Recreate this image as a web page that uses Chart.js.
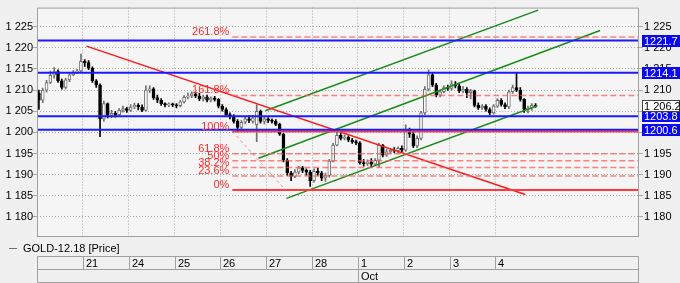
<!DOCTYPE html>
<html>
<head>
<meta charset="utf-8">
<script src="https://cdn.jsdelivr.net/npm/chart.js@4.4.0/dist/chart.umd.min.js"></script>
<style>
  html, body { margin: 0; padding: 0; background: #f0f0f0; }
  #wrap { width: 680px; height: 283px; }
</style>
</head>
<body>
<div id="wrap"><canvas id="mycanvas" width="680" height="283"></canvas></div>
<script>
// GOLD-12.18, 2h bars, 12 per trading day
var BARS_PER_DAY = 12;
var dayLabels = ['', '21', '24', '25', '26', '27', '28', '1', '2', '3', '4'];
var monthStarts = [7];
var monthLabels = ['Oct'];
var yTicks = [1180, 1185, 1190, 1195, 1200, 1205, 1210, 1215, 1220, 1225];

var opens = [
  1209.3,1207.6,1210,1211.8,1213.5,1214.4,1212.2,1210.6,1212.4,1213.6,1214.2,1214.5,
  1216.8,1216.5,1215.2,1212.2,1211.2,1203.2,1206.8,1204,1204.5,1204.2,1205.2,1205.6,
  1205.2,1206,1206.4,1206,1205.2,1210,1210.3,1208.2,1207.6,1206.8,1206.5,1206.6,
  1206.5,1206.3,1207.2,1208.3,1208.6,1209.1,1208.6,1207.9,1208.4,1207.6,1208.1,1207.8,
  1206.2,1205.4,1204.2,1203.8,1202.6,1201.2,1202.4,1203.2,1202.6,1201.8,1205,1202.6,
  1203.2,1202.8,1202.6,1201.9,1199.6,1193.4,1190.4,1189.6,1190.6,1191.6,1191,1190.6,
  1188.6,1190.8,1190.4,1189.2,1189.8,1193.2,1197,1199.3,1198.6,1198.8,1198.2,1197.8,
  1197.5,1192.8,1192.6,1193,1192.5,1193.4,1197,1194.6,1195.4,1195.8,1195.6,1196.2,
  1195.8,1200.6,1199.6,1196.8,1198.6,1204.6,1210.2,1213.6,1211.2,1208.8,1209.6,1210.6,
  1210.4,1211.4,1211,1209.8,1210.2,1209.4,1209.8,1206.4,1205.8,1206.2,1205.4,1204.6,
  1206.2,1207.6,1206.6,1206,1209.6,1210.6,1210,1207.8,1205.4,1205.8,1206.4
];
var highs = [
  1210,1210.5,1212.3,1214.5,1215.3,1214.8,1212.6,1212.8,1214,1214.6,1214.9,1218.5,
  1217.2,1217,1215.5,1212.5,1211.5,1207.4,1207,1205.2,1205,1205.6,1206.2,1206,
  1206.6,1206.9,1206.8,1206.5,1211,1211,1210.6,1208.8,1208,1207,1207,1206.9,
  1206.8,1207.5,1208.7,1209.3,1209.6,1209.5,1209.3,1208.8,1208.8,1208.4,1208.5,1208,
  1206.6,1205.8,1204.6,1204.2,1203,1202.8,1203.7,1203.9,1204,1206.5,1205.3,1203.6,
  1203.5,1203.2,1203,1202.2,1199.8,1193.8,1190.8,1191.2,1192,1192,1191.4,1191,
  1191.4,1191.5,1190.8,1190.4,1193.6,1197.4,1200,1199.8,1199.4,1199.2,1198.6,1198.2,
  1197.8,1193.6,1193.5,1193.8,1193.8,1197.4,1197.2,1196,1196.2,1196.4,1196.6,1196.8,
  1201.8,1201,1200,1199.2,1205,1210.8,1214.8,1214,1211.6,1210,1211,1211.2,
  1212.2,1212,1211.4,1210.8,1210.6,1210.2,1210,1207,1206.6,1206.6,1205.8,1206.6,
  1208,1208,1207,1210,1211.2,1214.2,1210.6,1208,1206.2,1206.8,1206.8
];
var lows = [
  1205.4,1207,1209.5,1211.5,1212.8,1211.8,1210.2,1210.3,1212,1213.4,1213.9,1214.3,
  1215.6,1214.8,1211.8,1210.6,1199,1202.6,1203.4,1203.5,1203.6,1203.8,1204.8,1204.7,
  1204.9,1205.6,1205.3,1204.9,1205,1209.4,1207.8,1207,1206.4,1206,1206.1,1206.1,
  1205.8,1206,1206.9,1207.9,1208.2,1208.2,1207.5,1207.4,1207.2,1207.2,1207.4,1205.8,
  1205,1203.8,1203.2,1202.2,1200.1,1200.8,1202,1202.3,1202.2,1197.8,1202.2,1202,
  1202.3,1202.2,1201.6,1199.3,1193,1189.8,1188.6,1189.3,1190.2,1190.5,1189.8,1187.2,
  1188.2,1189.8,1188.6,1188.4,1189.4,1193,1196.8,1198.2,1198.2,1197.8,1197.4,1197.1,
  1192.5,1192,1192.2,1191.8,1192.1,1191.8,1194.2,1194.3,1195,1195.2,1195.2,1195.4,
  1195.5,1198.8,1196.4,1196.4,1198.2,1204.2,1209.8,1210.8,1208.4,1208.4,1209.3,1209.9,
  1210,1210.5,1209.4,1209.4,1208.2,1207.9,1206,1205.4,1205.4,1205,1204.2,1204.3,
  1205.9,1206.2,1205.6,1205.6,1209.2,1209.6,1207.4,1204.7,1204.6,1205.2,1205.9
];
var closes = [
  1207.6,1210,1211.8,1213.5,1214.4,1212.2,1210.6,1212.4,1213.6,1214.2,1214.5,1216.8,
  1216.5,1215.2,1212.2,1211.2,1203.2,1206.8,1204,1204.5,1204.2,1205.2,1205.6,1205.2,
  1206,1206.4,1206,1205.2,1210,1210.3,1208.2,1207.6,1206.8,1206.5,1206.6,1206.5,
  1206.3,1207.2,1208.3,1208.6,1209.1,1208.6,1207.9,1208.4,1207.6,1208.1,1207.8,1206.2,
  1205.4,1204.2,1203.8,1202.6,1201.2,1202.4,1203.2,1202.8,1203.4,1205,1202.6,1203.2,
  1202.8,1202.6,1201.9,1199.6,1193.4,1190.4,1189.6,1190.6,1191.6,1191,1190.6,1188.6,
  1190.8,1190.4,1189.2,1189.8,1193.2,1197,1199.3,1198.6,1198.8,1198.2,1197.8,1197.5,
  1192.8,1192.6,1193,1192.5,1193.4,1197,1194.6,1195.4,1195.8,1195.6,1196.2,1195.8,
  1200.6,1199.6,1196.8,1198.6,1204.6,1210.2,1213.6,1211.2,1208.8,1209.6,1210.6,1210.4,
  1211.4,1211,1209.8,1210.2,1209.4,1209.8,1206.4,1205.8,1206.2,1205.4,1204.6,1206.2,
  1207.6,1206.6,1206,1209.6,1210.6,1210,1207.8,1205.4,1205.8,1206.4,1206.2
];

// horizontal price levels (blue) and last price
var levels = [1221.7, 1214.1, 1203.8, 1200.6];
var lastPrice = 1206.2;

// fibonacci retracement
var fibLow = 1186.4, fibHigh = 1200.2;
var fibStart = 4.26, fibEnd = 5.42;   // in days
var fibRatios = [0, 0.236, 0.382, 0.5, 0.618, 1, 1.618, 2.618];
var fibLabels = ['0%', '23.6%', '38.2%', '50%', '61.8%', '100%', '161.8%', '261.8%'];

// trend line and channel, [day, price]
var trendLine = [[1.08, 1220.4], [10.65, 1185.3]];
var channelTop = [[4.98, 1205.1], [10.93, 1228.9]];
var channelMid = [[4.83, 1193.9], [12.28, 1224.1]];
var channelLow = [[5.44, 1184.4], [10.91, 1206.3]];

var X_MIN = 0, X_MAX = 13.13;
var Y_MIN = 1175.5, Y_MAX = 1229.5;

var FONT = '"Liberation Sans", Arial, sans-serif';
Chart.defaults.font.family = FONT;
Chart.defaults.font.size = 11;
Chart.defaults.color = '#000';

function barX(i) { return (i + 0.5) / BARS_PER_DAY; }
function isUp(i) { return closes[i] >= opens[i]; }
function fmt(v) { return String(v).replace(/\B(?=(\d{3})+(?!\d))/g, ' '); }

var wickData = [], bodyData = [];
for (var i = 0; i < closes.length; i++) {
  wickData.push({x: barX(i), y: [lows[i], highs[i]]});
  bodyData.push({x: barX(i), y: [opens[i], closes[i]]});
}

function seg(points, color, width, dash) {
  return {
    type: 'line',
    data: points.map(function(p){ return {x: p[0], y: p[1]}; }),
    borderColor: color, borderWidth: width, borderDash: dash || [],
    pointRadius: 0, fill: false, tension: 0, order: 0
  };
}

var datasets = [
  {
    label: 'body', data: bodyData, grouped: false, barThickness: 3, minBarLength: 1,
    borderSkipped: false, borderWidth: 1, order: 5,
    backgroundColor: function(c){ return isUp(c.dataIndex) ? '#ffffff' : '#000000'; },
    borderColor: function(c){ return isUp(c.dataIndex) ? '#707070' : '#000000'; }
  },
  {
    label: 'wick', data: wickData, grouped: false, barThickness: 1, order: 6,
    backgroundColor: function(c){ return isUp(c.dataIndex) ? '#707070' : '#000000'; }
  }
];

levels.forEach(function(v){
  datasets.push(seg([[X_MIN, v], [X_MAX, v]], '#1a1aff', 2));
});
fibRatios.forEach(function(r){
  var v = fibLow + r * (fibHigh - fibLow);
  var solid = (r === 0 || r === 1);
  datasets.push(seg([[fibStart, v], [X_MAX, v]], solid ? '#ff3b3b' : 'rgba(255,90,90,0.75)', solid ? 2 : 1.5, solid ? [] : [6, 3]));
});
datasets.push(seg([[fibStart, fibHigh], [fibEnd, fibLow]], 'rgba(255,110,110,0.8)', 1, [3, 3]));
datasets.push(seg(trendLine, '#ff1a1a', 1.5));
datasets.push(seg(channelTop, '#1a8c1a', 1.5));
datasets.push(seg(channelMid, '#1a8c1a', 1.5));
datasets.push(seg(channelLow, '#1a8c1a', 1.5));

var framePlugin = {
  id: 'frame',
  beforeDraw: function(chart) {
    var ctx = chart.ctx, a = chart.chartArea;
    ctx.save();
    ctx.fillStyle = '#f0f0f0';
    ctx.fillRect(0, 0, chart.width, chart.height);
    ctx.fillStyle = '#f5f5f5';
    ctx.fillRect(a.left, a.top, a.right - a.left, a.bottom - a.top);
    ctx.restore();
  },
  afterDatasetsDraw: function(chart) {
    var ctx = chart.ctx, xs = chart.scales.x, ys = chart.scales.y;
    ctx.save();
    ctx.font = '11px ' + FONT;
    ctx.fillStyle = '#ff2b2b';
    ctx.textAlign = 'right';
    ctx.textBaseline = 'alphabetic';
    var lx = xs.getPixelForValue(fibStart) - 3;
    fibRatios.forEach(function(r, k){
      var v = fibLow + r * (fibHigh - fibLow);
      ctx.fillText(fibLabels[k], lx, ys.getPixelForValue(v) - 2);
    });
    ctx.restore();
  },
  afterDraw: function(chart) {
    var ctx = chart.ctx, a = chart.chartArea, xs = chart.scales.x, ys = chart.scales.y;
    ctx.save();
    // plot frame
    ctx.strokeStyle = '#a0a0a0';
    ctx.lineWidth = 1;
    ctx.strokeRect(a.left + 0.5, a.top + 0.5, a.right - a.left - 1, a.bottom - a.top);

    // price boxes on right axis
    ctx.font = '11px ' + FONT;
    ctx.textBaseline = 'middle';
    ctx.textAlign = 'left';
    levels.forEach(function(v){
      var y = Math.round(ys.getPixelForValue(v));
      ctx.fillStyle = '#0a0af0';
      ctx.fillRect(642, y - 6, 38, 12);
      ctx.fillStyle = '#ffffff';
      ctx.fillText(v.toFixed(1), 644, y + 0.5);
    });
    var py = Math.round(ys.getPixelForValue(lastPrice));
    ctx.fillStyle = '#ffffff';
    ctx.fillRect(642, py - 6, 38, 12);
    ctx.strokeStyle = '#404040';
    ctx.strokeRect(642.5, py - 5.5, 37, 11);
    ctx.fillStyle = '#000000';
    ctx.fillText(fmt(lastPrice.toFixed(1)), 644, py + 0.5);

    // legend
    ctx.strokeStyle = '#707070';
    ctx.beginPath();
    ctx.moveTo(9, 248.5); ctx.lineTo(17, 248.5);
    ctx.stroke();
    ctx.fillStyle = '#000';
    ctx.fillText('GOLD-12.18 [Price]', 23, 248.5);

    // date table
    var L = a.left + 0.5, R = a.right - 0.5, t1 = 256.5, t2 = 269.5, t3 = 282.5;
    ctx.strokeStyle = '#a0a0a0';
    ctx.beginPath();
    ctx.moveTo(L, t1); ctx.lineTo(R, t1);
    ctx.moveTo(L, t2); ctx.lineTo(R, t2);
    ctx.moveTo(L, t3); ctx.lineTo(R, t3);
    ctx.moveTo(L, t1); ctx.lineTo(L, t3);
    ctx.moveTo(R, t1); ctx.lineTo(R, t3);
    for (var d = 1; d < dayLabels.length; d++) {
      var x = Math.round(xs.getPixelForValue(d)) + 0.5;
      ctx.moveTo(x, t1); ctx.lineTo(x, t2);
    }
    monthStarts.forEach(function(m){
      var x = Math.round(xs.getPixelForValue(m)) + 0.5;
      ctx.moveTo(x, t2); ctx.lineTo(x, t3);
    });
    ctx.stroke();
    ctx.fillStyle = '#000';
    for (var d2 = 0; d2 < dayLabels.length; d2++) {
      ctx.fillText(dayLabels[d2], Math.round(xs.getPixelForValue(d2)) + 3, 263.5);
    }
    monthStarts.forEach(function(m, k){
      ctx.fillText(monthLabels[k], Math.round(xs.getPixelForValue(m)) + 3, 276.5);
    });
    ctx.restore();
  }
};

var gridColor = '#a8a8a8';

new Chart(document.getElementById('mycanvas'), {
  type: 'bar',
  data: { datasets: datasets },
  options: {
    responsive: false,
    devicePixelRatio: 1,
    animation: false,
    layout: { padding: { top: 4, left: 0, right: 0, bottom: 0 } },
    plugins: { legend: { display: false }, tooltip: { enabled: false } },
    scales: {
      x: {
        type: 'linear', min: X_MIN, max: X_MAX, offset: false,
        grid: { offset: false, color: gridColor, drawTicks: false },
        border: { display: false, dash: [1, 2] },
        ticks: { display: false },
        afterBuildTicks: function(s) {
          var t = [];
          for (var d = 1; d < dayLabels.length; d++) t.push({value: d});
          s.ticks = t;
        },
        afterFit: function(s) { s.height = 47; }
      },
      y: {
        position: 'left', min: Y_MIN, max: Y_MAX, beginAtZero: false,
        grid: { color: gridColor, tickLength: 4 },
        border: { display: false, dash: [1, 2] },
        ticks: { padding: 0, callback: function(v){ return fmt(v); } },
        afterBuildTicks: function(s) { s.ticks = yTicks.map(function(v){ return {value: v}; }); },
        afterFit: function(s) { s.width = 37; }
      },
      y2: {
        position: 'right', min: Y_MIN, max: Y_MAX,
        grid: { color: gridColor, tickLength: 4, drawOnChartArea: false },
        border: { display: false, dash: [1, 2] },
        ticks: { padding: 1, callback: function(v){ return fmt(v); } },
        afterBuildTicks: function(s) { s.ticks = yTicks.map(function(v){ return {value: v}; }); },
        afterFit: function(s) { s.width = 41; }
      }
    }
  },
  plugins: [framePlugin]
});
</script>
</body>
</html>
